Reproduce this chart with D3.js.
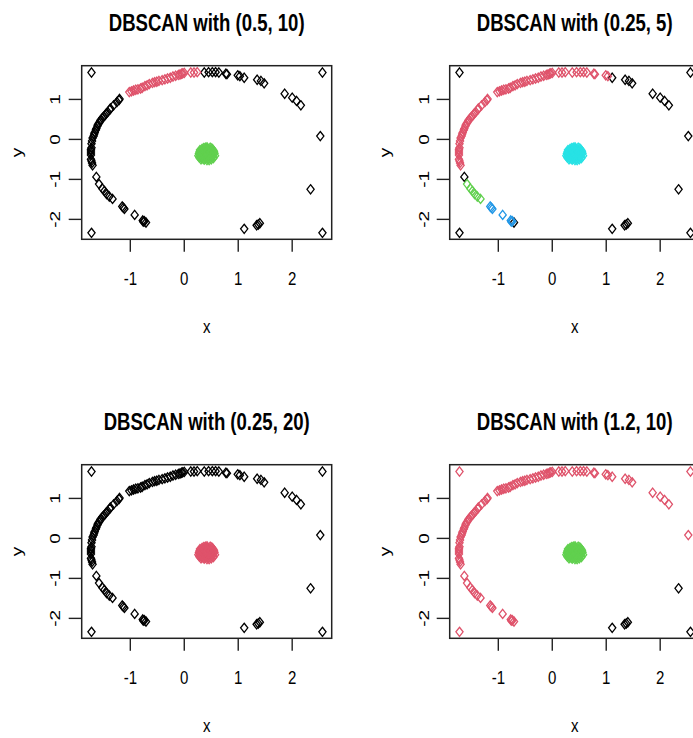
<!DOCTYPE html>
<html>
<head>
<meta charset="utf-8">
<script src="https://cdn.jsdelivr.net/npm/d3@7"></script>
<style>
  body { margin: 0; background: #fff; }
  svg { display: block; }
  text { font-family: "Liberation Sans", Arial, sans-serif; fill: #000; }
</style>
</head>
<body>
<svg id="chart" width="693" height="738"></svg>
<script>
// Shared 2-D data set: lower tail, left arc, upper arc, upper-right arc, scattered outliers, dense blob.
const pointX = [
  // lower tail
  -0.70, -0.73, -0.76, -0.75, -0.91, -1.10, -1.14, -1.12, -1.32, -1.38, -1.43, -1.47, -1.51, -1.57, -1.62,
  // left arc
  -1.69, -1.70, -1.71, -1.72, -1.72, -1.72, -1.72, -1.72, -1.71, -1.71, -1.70, -1.69, -1.67, -1.66, -1.65, -1.63, -1.62,
  -1.60, -1.59, -1.57, -1.55, -1.54, -1.51, -1.49, -1.46, -1.44, -1.41, -1.37, -1.36, -1.30, -1.24, -1.20, -1.19,
  // upper arc
  -1.01, -0.97, -0.93, -0.89, -0.85, -0.80, -0.77, -0.72, -0.68, -0.64, -0.58, -0.54, -0.50, -0.46,
  -0.40, -0.35, -0.30, -0.25, -0.20, -0.15, -0.10, -0.07, -0.04, -0.02, 0.01, 0.13, 0.19, 0.25,
  // upper-right arc
  0.38, 0.46, 0.53, 0.59, 0.65, 0.78, 0.80, 1.00, 1.04, 1.12, 1.36, 1.43, 1.49, 1.87, 2.01, 2.09, 2.17,
  // outliers
  -1.71, 2.57, -1.71, 2.57, 2.53, 2.35, 1.12, 1.35, 1.41, 1.38,
  // blob
  0.42, 0.35, 0.48, 0.30, 0.55, 0.40, 0.45, 0.33, 0.52, 0.38, 0.47, 0.29, 0.56, 0.36, 0.44,
  0.50, 0.41, 0.34, 0.49, 0.31, 0.43, 0.38, 0.54, 0.57, 0.28, 0.46, 0.39, 0.53, 0.32, 0.44,
  0.37, 0.51, 0.35, 0.48, 0.42, 0.40, 0.45, 0.33, 0.50, 0.36, 0.47, 0.55, 0.30, 0.43, 0.39,
  0.52, 0.27, 0.58, 0.41, 0.46, 0.34, 0.49, 0.37, 0.32, 0.54, 0.44, 0.40, 0.51, 0.29, 0.47
];
const pointY = [
  // lower tail
  -2.09, -2.06, -2.04, -2.07, -1.90, -1.75, -1.69, -1.72, -1.50, -1.44, -1.38, -1.30, -1.24, -1.13, -0.95,
  // left arc
  -0.66, -0.60, -0.55, -0.51, -0.40, -0.35, -0.30, -0.26, -0.22, -0.12, -0.05, 0.02, 0.07, 0.12, 0.16, 0.22, 0.26,
  0.32, 0.36, 0.40, 0.44, 0.47, 0.52, 0.55, 0.59, 0.63, 0.67, 0.73, 0.76, 0.84, 0.92, 0.97, 1.00,
  // upper arc
  1.17, 1.19, 1.21, 1.23, 1.24, 1.26, 1.28, 1.32, 1.34, 1.37, 1.40, 1.42, 1.43, 1.45,
  1.47, 1.49, 1.51, 1.53, 1.56, 1.58, 1.60, 1.61, 1.63, 1.64, 1.65, 1.66, 1.66, 1.67,
  // upper-right arc
  1.66, 1.67, 1.67, 1.67, 1.66, 1.63, 1.62, 1.59, 1.57, 1.53, 1.48, 1.45, 1.39, 1.13, 1.03, 0.95, 0.84,
  // outliers
  1.66, 1.66, -2.35, -2.35, 0.07, -1.26, -2.25, -2.16, -2.11, -2.14,
  // blob
  -0.37, -0.30, -0.28, -0.40, -0.38, -0.22, -0.50, -0.48, -0.46, -0.33, -0.35, -0.33, -0.31, -0.42, -0.44,
  -0.40, -0.27, -0.25, -0.22, -0.45, -0.53, -0.52, -0.43, -0.36, -0.37, -0.31, -0.39, -0.33, -0.36, -0.25,
  -0.28, -0.51, -0.37, -0.43, -0.46, -0.31, -0.40, -0.31, -0.27, -0.50, -0.48, -0.48, -0.28, -0.21, -0.45,
  -0.24, -0.42, -0.42, -0.34, -0.26, -0.43, -0.37, -0.23, -0.51, -0.27, -0.33, -0.49, -0.33, -0.47, -0.53
];

// Cluster ids per run (0 = noise)
const clusters_eps05_min10 = [
  0,0,0,0,0,0,0,0,0,0,0,0,0,0,0,
  0,0,0,0,0,0,0,0,0,0,0,0,0,0,0,0,0,0,0,0,0,0,0,0,0,0,0,0,0,0,0,0,0,
  1,1,1,1,1,1,1,1,1,1,1,1,1,1,1,1,1,1,1,1,1,1,1,1,1,1,1,1,
  0,0,0,0,0,0,0,0,0,0,0,0,0,0,0,0,0,
  0,0,0,0,0,0,0,0,0,0,
  2,2,2,2,2,2,2,2,2,2,2,2,2,2,2,2,2,2,2,2,2,2,2,2,2,2,2,2,2,2,
  2,2,2,2,2,2,2,2,2,2,2,2,2,2,2,2,2,2,2,2,2,2,2,2,2,2,2,2,2,2
];
const clusters_eps025_min5 = [
  0,3,3,3,3,3,3,3,2,2,2,2,2,2,0,
  1,1,1,1,1,1,1,1,1,1,1,1,1,1,1,1,1,1,1,1,1,1,1,1,1,1,1,1,1,1,1,1,1,
  1,1,1,1,1,1,1,1,1,1,1,1,1,1,1,1,1,1,1,1,1,1,1,1,1,1,1,1,
  1,1,1,1,1,1,1,1,1,0,0,0,0,0,0,0,0,
  0,0,0,0,0,0,0,0,0,0,
  4,4,4,4,4,4,4,4,4,4,4,4,4,4,4,4,4,4,4,4,4,4,4,4,4,4,4,4,4,4,
  4,4,4,4,4,4,4,4,4,4,4,4,4,4,4,4,4,4,4,4,4,4,4,4,4,4,4,4,4,4
];
const clusters_eps025_min20 = [
  0,0,0,0,0,0,0,0,0,0,0,0,0,0,0,
  0,0,0,0,0,0,0,0,0,0,0,0,0,0,0,0,0,0,0,0,0,0,0,0,0,0,0,0,0,0,0,0,0,
  0,0,0,0,0,0,0,0,0,0,0,0,0,0,0,0,0,0,0,0,0,0,0,0,0,0,0,0,
  0,0,0,0,0,0,0,0,0,0,0,0,0,0,0,0,0,
  0,0,0,0,0,0,0,0,0,0,
  1,1,1,1,1,1,1,1,1,1,1,1,1,1,1,1,1,1,1,1,1,1,1,1,1,1,1,1,1,1,
  1,1,1,1,1,1,1,1,1,1,1,1,1,1,1,1,1,1,1,1,1,1,1,1,1,1,1,1,1,1
];
const clusters_eps12_min10 = [
  1,1,1,1,1,1,1,1,1,1,1,1,1,1,1,
  1,1,1,1,1,1,1,1,1,1,1,1,1,1,1,1,1,1,1,1,1,1,1,1,1,1,1,1,1,1,1,1,1,
  1,1,1,1,1,1,1,1,1,1,1,1,1,1,1,1,1,1,1,1,1,1,1,1,1,1,1,1,
  1,1,1,1,1,1,1,1,1,1,1,1,1,1,1,1,1,
  1,1,1,0,1,0,0,0,0,0,
  2,2,2,2,2,2,2,2,2,2,2,2,2,2,2,2,2,2,2,2,2,2,2,2,2,2,2,2,2,2,
  2,2,2,2,2,2,2,2,2,2,2,2,2,2,2,2,2,2,2,2,2,2,2,2,2,2,2,2,2,2
];

const panelTitles = ["DBSCAN with (0.5, 10)", "DBSCAN with (0.25, 5)", "DBSCAN with (0.25, 20)", "DBSCAN with (1.2, 10)"];
const panelClusters = [clusters_eps05_min10, clusters_eps025_min5, clusters_eps025_min20, clusters_eps12_min10];
const xTicks = [-1, 0, 1, 2];
const yTicks = [-2, -1, 0, 1];
const clusterColors = ["#000000", "#DF536B", "#61D04F", "#2297E6", "#28E2E5"];

// Layout
const panelStepX = 368, panelStepY = 399;
const box = { left: 81.7, right: 331.7, top: 65.7, bottom: 239.3 };
const squeeze = 0.79;       // horizontal text compression
const titleSize = 23.5, axisFont = 19;
const markW = 3.6, markH = 4.6;

// R-style axis ranges: data extent padded by 4% on each side
const pad4 = ext => { const d = (ext[1] - ext[0]) * 0.04; return [ext[0] - d, ext[1] + d]; };
const x = d3.scaleLinear().domain(pad4(d3.extent(pointX))).range([box.left, box.right]);
const y = d3.scaleLinear().domain(pad4(d3.extent(pointY))).range([box.bottom, box.top]);

const diamond = `M0,${-markH}L${markW},0L0,${markH}L${-markW},0Z`;
const svg = d3.select("#chart");
const points = pointX.map((px, i) => ({ x: px, y: pointY[i], i }));

panelTitles.forEach((title, p) => {
  const col = p % 2, row = Math.floor(p / 2);
  const g = svg.append("g").attr("transform", `translate(${col * panelStepX},${row * panelStepY})`);
  const labels = panelClusters[p];

  // title
  g.append("text")
    .attr("transform", `translate(${(box.left + box.right) / 2},30.5) scale(${squeeze},1)`)
    .attr("text-anchor", "middle")
    .style("font-weight", "bold")
    .style("font-size", titleSize + "px")
    .text(title);

  // points: noise first so clustered points sit on top
  const order = points.slice().sort((a, b) => (labels[a.i] === 0 ? 0 : 1) - (labels[b.i] === 0 ? 0 : 1));
  g.append("g").selectAll("path").data(order).join("path")
    .attr("d", diamond)
    .attr("transform", d => `translate(${x(d.x)},${y(d.y)})`)
    .attr("fill", "none")
    .attr("stroke", d => clusterColors[labels[d.i]])
    .attr("stroke-width", 1.3);

  // plot frame
  g.append("rect")
    .attr("x", box.left).attr("y", box.top)
    .attr("width", box.right - box.left).attr("height", box.bottom - box.top)
    .attr("fill", "none").attr("stroke", "#222").attr("stroke-width", 1.5);

  // x axis
  const ax = g.append("g").attr("transform", `translate(0,${box.bottom})`)
    .call(d3.axisBottom(x).tickValues(xTicks).tickSize(12.5).tickFormat(d => String(d)));
  ax.select(".domain").remove();
  ax.selectAll(".tick line").attr("stroke", "#222").attr("stroke-width", 1.4);
  ax.selectAll(".tick text")
    .attr("y", null).attr("dy", null).attr("x", null)
    .attr("transform", `translate(0,${285.3 - box.bottom}) scale(${squeeze},1)`)
    .attr("fill", "#000")
    .style("font-size", axisFont + "px")
    .style("font-family", '"Liberation Sans", Arial, sans-serif');

  // y axis
  const ay = g.append("g").attr("transform", `translate(${box.left},0)`)
    .call(d3.axisLeft(y).tickValues(yTicks).tickSize(13).tickFormat(d => String(d)));
  ay.select(".domain").remove();
  ay.selectAll(".tick line").attr("stroke", "#222").attr("stroke-width", 1.4);
  ay.selectAll(".tick text")
    .attr("y", null).attr("dy", null).attr("x", null)
    .attr("text-anchor", "middle")
    .attr("transform", `translate(${60.5 - box.left},0) scale(${squeeze},1) rotate(-90)`)
    .attr("fill", "#000")
    .style("font-size", axisFont + "px")
    .style("font-family", '"Liberation Sans", Arial, sans-serif');

  // axis titles
  g.append("text")
    .attr("transform", `translate(${(box.left + box.right) / 2},333.3) scale(${squeeze},1)`)
    .attr("text-anchor", "middle")
    .style("font-size", axisFont + "px")
    .text("x");
  g.append("text")
    .attr("transform", `translate(22,${(box.top + box.bottom) / 2}) scale(${squeeze},1) rotate(-90)`)
    .attr("text-anchor", "middle")
    .style("font-size", axisFont + "px")
    .text("y");
});
</script>
</body>
</html>
